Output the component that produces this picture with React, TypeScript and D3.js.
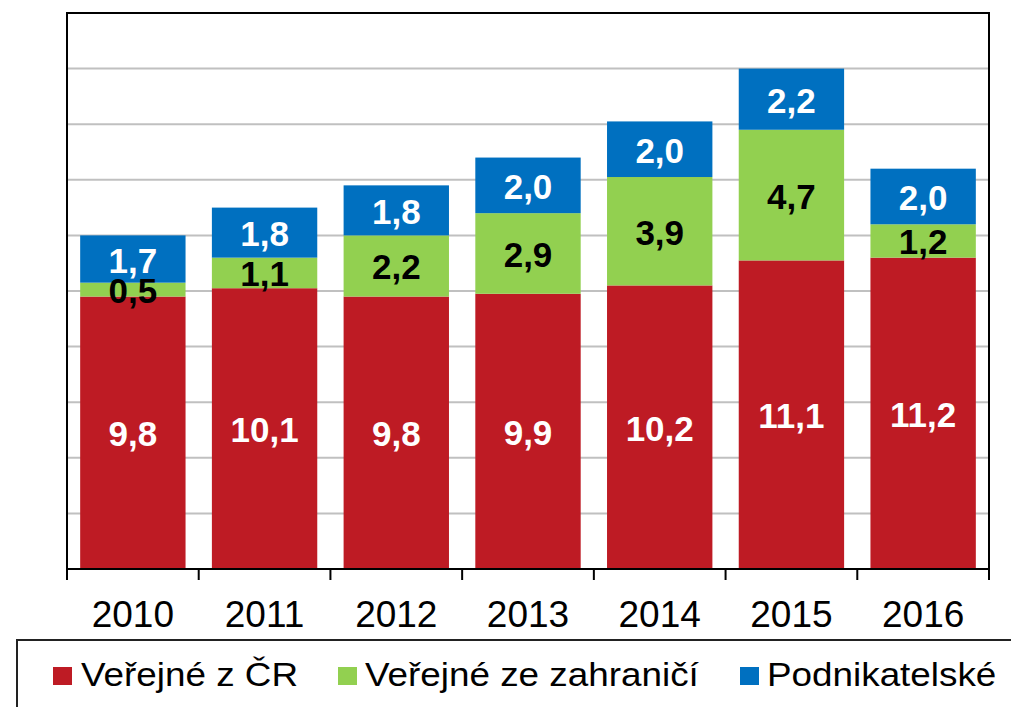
import React from "react";
import * as d3 from "d3";

const years = ["2010", "2011", "2012", "2013", "2014", "2015", "2016"];
const verejneCR = [9.8, 10.1, 9.8, 9.9, 10.2, 11.1, 11.2];
const verejneZahranici = [0.5, 1.1, 2.2, 2.9, 3.9, 4.7, 1.2];
const podnikatelske = [1.7, 1.8, 1.8, 2.0, 2.0, 2.2, 2.0];
const seriesNames = ["Veřejné z ČR", "Veřejné ze zahraničí", "Podnikatelské"];
const yTicks = [0, 2, 4, 6, 8, 10, 12, 14, 16, 18, 20];

const colors = ["#BE1B24", "#92D050", "#0070C0"];
const labelColors = ["#FFFFFF", "#000000", "#FFFFFF"];

const W = 1011;
const H = 707;
const left = 67;
const right = 989;
const top = 13;
const bottom = 569;

export default function App() {
  const x = d3.scaleBand<string>().domain(years).range([left, right]).paddingInner(0.2).paddingOuter(0.1);
  const y = d3.scaleLinear().domain([0, 20]).range([bottom, top]);
  const rows = years.map((yr, i) => ({ year: yr, a: verejneCR[i], b: verejneZahranici[i], c: podnikatelske[i] }));
  const stack = d3.stack<any>().keys(["a", "b", "c"]);
  const stacked = stack(rows);
  const fmt = (v: number) => v.toFixed(1).replace(".", ",");
  const step = x.step();
  const boundaries = d3.range(years.length + 1).map((i) => left + i * step);
  const font = "'Liberation Sans', Arial, sans-serif";
  const legendSq = [53, 338, 740];
  const legendTx = [81, 365, 767];

  return (
    <svg width={W} height={H} style={{ position: "absolute", left: 0, top: 0, background: "#fff" }} fontFamily={font}>
      <rect x={0} y={0} width={W} height={H} fill="#fff" />
      {yTicks.slice(1, -1).map((t) => (
        <line key={t} x1={left} x2={right} y1={y(t)} y2={y(t)} stroke="#C0C0C0" strokeWidth={2} />
      ))}
      {stacked.map((s, si) =>
        s.map((d, i) => (
          <rect
            key={si + "-" + i}
            x={x(years[i])}
            width={x.bandwidth()}
            y={y(d[1])}
            height={y(d[0]) - y(d[1])}
            fill={colors[si]}
          />
        ))
      )}
      {stacked.map((s, si) =>
        s.map((d, i) => (
          <text
            key={"l" + si + "-" + i}
            x={(x(years[i]) as number) + x.bandwidth() / 2}
            y={(y(d[0]) + y(d[1])) / 2 + 13.5}
            textAnchor="middle"
            fontSize={35}
            fontWeight="bold"
            fill={labelColors[si]}
          >
            {fmt(d[1] - d[0])}
          </text>
        ))
      )}
      <line x1={left} x2={right} y1={top} y2={top} stroke="#000" strokeWidth={2} />
      <line x1={left} x2={left} y1={top - 1} y2={bottom} stroke="#000" strokeWidth={2} />
      <line x1={right} x2={right} y1={top - 1} y2={bottom} stroke="#000" strokeWidth={2} />
      <line x1={left - 1} x2={right + 1} y1={bottom} y2={bottom} stroke="#000" strokeWidth={2} />
      {boundaries.map((b, i) => (
        <line key={"t" + i} x1={b} x2={b} y1={bottom} y2={580} stroke="#000" strokeWidth={2} />
      ))}
      {years.map((yr) => (
        <text key={yr} x={(x(yr) as number) + x.bandwidth() / 2} y={627} textAnchor="middle" fontSize={37} fill="#000">
          {yr}
        </text>
      ))}
      <rect x={17} y={640} width={1100} height={200} fill="none" stroke="#222" strokeWidth={2} />
      {seriesNames.map((n, i) => (
        <g key={n}>
          <rect x={legendSq[i]} y={667} width={19} height={18} fill={colors[i]} />
          <text transform={`translate(${legendTx[i]},686) scale(1.1,1)`} fontSize={33.5} fill="#000">
            {n}
          </text>
        </g>
      ))}
    </svg>
  );
}
